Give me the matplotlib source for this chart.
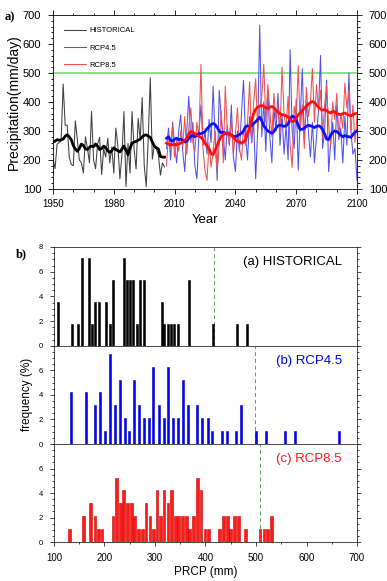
import numpy as np
import matplotlib
matplotlib.use("Agg")
import matplotlib.pyplot as plt
from matplotlib.ticker import MultipleLocator

plt.rcParams['font.family'] = ['Liberation Sans', 'DejaVu Sans']

# ---- panel a: annual precipitation ----
hist_years = list(range(1950, 2006))
hist_vals = [205, 170, 255, 260, 265, 462, 320, 320, 210, 185,
             180, 335, 270, 200, 190, 155, 280, 240, 190, 367,
             200, 170, 255, 278, 150, 240, 210, 275, 190, 244,
             155, 310, 250, 135, 217, 367, 108, 257, 155, 367,
             238, 169, 344, 271, 415, 182, 108, 278, 483, 203,
             251, 238, 217, 148, 190, 176]
hist_smooth = [262, 265, 270, 268, 270, 272, 282, 287, 280, 270,
               250, 238, 230, 240, 255, 250, 238, 236, 244, 248,
               246, 255, 248, 236, 240, 248, 242, 232, 226, 232,
               242, 236, 232, 228, 238, 248, 235, 218, 240, 258,
               262, 264, 268, 272, 280, 285, 287, 282, 278, 262,
               248, 242, 238, 212, 210, 210]

fut_years = list(range(2006, 2101))
rcp45_vals = [240, 310, 200, 330, 250, 190, 300, 355, 230, 160,
              300, 420, 260, 330, 180, 135, 290, 390, 250, 300,
              220, 340, 260, 455, 270, 130, 440, 350, 280, 200,
              320, 250, 390, 210, 160, 300, 230, 360, 475, 280,
              200, 350, 260, 330, 135, 300, 665, 280, 400, 230,
              440, 280, 190, 380, 300, 430, 250, 360, 220, 320,
              200, 580, 300, 240, 410, 165, 350, 515, 260, 400,
              300, 210, 330, 190, 280, 370, 560, 240, 300, 475,
              160, 260, 330, 200, 390, 270, 310, 190, 350, 250,
              500, 300, 220, 240, 130]
rcp45_smooth = [275, 280, 268, 265, 272, 275, 270, 272, 268, 262,
                265, 275, 282, 285, 280, 285, 292, 290, 294, 298,
                308, 315, 322, 326, 322, 312, 300, 294, 296, 292,
                292, 290, 286, 282, 280, 284, 288, 292, 300, 315,
                318, 316, 318, 326, 332, 340, 348, 335, 318, 308,
                300, 296, 292, 298, 310, 318, 320, 318, 316, 318,
                325, 340, 352, 348, 340, 318, 305, 306, 310, 316,
                320, 318, 315, 312, 316, 318, 315, 305, 290, 272,
                270, 285, 296, 300, 298, 292, 286, 280, 284, 282,
                280, 278, 288, 296, 300]
rcp85_vals = [180, 290, 240, 320, 210, 270, 230, 300, 250, 350,
              220, 310, 380, 260, 230, 330, 280, 530, 240, 160,
              130, 260, 175, 230, 300, 160, 250, 370, 190, 455,
              300, 260, 340, 220, 290, 380, 240, 200, 310, 250,
              330, 470, 260, 400, 480, 300, 380, 420, 530, 330,
              460, 370, 280, 430, 340, 390, 290, 520, 360, 310,
              420, 250, 175, 385, 340, 525, 300, 390, 240, 450,
              350, 400, 515, 330, 460, 370, 440, 280, 390, 460,
              320, 250, 400, 340, 430, 280, 360, 310, 465, 380,
              440, 300, 390, 260, 350]
rcp85_smooth = [258, 255, 252, 253, 254, 252, 255, 258, 262, 268,
                275, 290, 298, 296, 290, 286, 282, 278, 270, 258,
                248, 238, 222, 218, 235, 250, 268, 280, 288, 292,
                294, 290, 284, 278, 270, 264, 262, 258, 262, 270,
                290, 312, 338, 360, 375, 382, 386, 388, 385, 380,
                378, 382, 385, 380, 372, 365, 360, 356, 355, 352,
                348, 340, 332, 335, 345, 356, 362, 370, 378, 386,
                392, 398, 402, 398, 390, 382, 376, 372, 374, 370,
                365, 362, 368, 366, 360, 358, 356, 360, 362, 358,
                355, 352, 356, 360, 360]

# ---- panel b: histograms (bin centre in mm, number of years) ----
hist_bins = [108, 135, 148, 155, 169, 176, 182, 190, 203, 210,
             217, 238, 244, 251, 257, 265, 271, 278, 313, 318,
             325, 332, 338, 345, 367, 415, 462, 483]
hist_counts = [2, 1, 1, 4, 4, 1, 2, 2, 2, 1,
               3, 4, 3, 3, 3, 1, 3, 3, 2, 1,
               1, 1, 1, 1, 3, 1, 1, 1]
rcp45_bins = [133, 163, 181, 191, 201, 211, 220, 230, 240, 249,
              259, 268, 278, 288, 297, 307, 317, 326, 336, 346,
              355, 365, 384, 394, 404, 413, 432, 442, 461, 471,
              500, 519, 558, 577, 664]
rcp45_counts = [4, 4, 3, 4, 1, 7, 3, 5, 2, 1,
                5, 3, 2, 2, 6, 3, 2, 6, 2, 2,
                5, 3, 3, 2, 2, 1, 1, 1, 1, 3,
                1, 1, 1, 1, 1]
rcp85_bins = [130, 159, 173, 181, 188, 195, 217, 224, 231, 238,
              245, 253, 260, 267, 275, 282, 290, 297, 304, 311,
              318, 326, 333, 340, 347, 355, 362, 369, 376, 384,
              391, 399, 406, 428, 436, 443, 450, 457, 465, 479,
              508, 516, 523, 531]
rcp85_counts = [1, 2, 3, 2, 1, 1, 2, 5, 3, 4,
                3, 3, 2, 1, 1, 3, 2, 1, 4, 2,
                4, 3, 4, 2, 2, 2, 2, 1, 2, 5,
                4, 1, 1, 1, 2, 2, 1, 2, 2, 1,
                1, 1, 1, 2]
pct95 = [416, 499, 508]

fig = plt.figure(figsize=(3.87, 5.81), dpi=100)

# ---------- top panel ----------
ax = fig.add_axes([0.137, 0.6747, 0.7855, 0.2995])
ax.axhline(500, color='#7ee07e', lw=1.3, zorder=1)
l1, = ax.plot(hist_years, hist_vals, color='#404040', lw=0.75, zorder=2)
l2, = ax.plot(fut_years, rcp45_vals, color='#5050f0', lw=0.75, zorder=2)
l3, = ax.plot(fut_years, rcp85_vals, color='#f05050', lw=0.75, zorder=3)
ax.plot(hist_years, hist_smooth, color='black', lw=2.0, zorder=4)
ax.plot(fut_years, rcp45_smooth, color='#1010ff', lw=2.0, zorder=4)
ax.plot(fut_years, rcp85_smooth, color='#ff1010', lw=2.0, zorder=5)
ax.set_xlim(1950, 2100)
ax.set_ylim(100, 700)
ax.xaxis.set_major_locator(MultipleLocator(30))
ax.xaxis.set_minor_locator(MultipleLocator(10))
ax.yaxis.set_major_locator(MultipleLocator(100))
ax.yaxis.set_minor_locator(MultipleLocator(20))
ax.tick_params(which='both', direction='out', top=True, right=True,
               labelright=True, width=0.6)
ax.tick_params(which='major', length=3.5)
ax.tick_params(which='minor', length=1.8)
ax.tick_params(axis='x', labelsize=7, pad=4)
ax.tick_params(axis='y', labelsize=8, pad=5)
for s in ax.spines.values():
    s.set_linewidth(0.6)
ax.set_xlabel('Year', fontsize=9.5, labelpad=3)
ax.set_ylabel('Precipitation(mm/day)', fontsize=10, labelpad=1)
leg = ax.legend([l1, l2, l3], ['HISTORICAL', 'RCP4.5', 'RCP8.5'],
                loc='upper left', bbox_to_anchor=(0.015, 0.97), frameon=False,
                fontsize=5.5, handlelength=2.8, handletextpad=0.5,
                labelspacing=1.3)
fig.text(0.012, 1 - 17 / 581, 'a)', family='Liberation Serif',
         fontweight='bold', fontsize=9, va='center')

# ---------- histograms ----------
hb = [0.4045, 0.2358, 0.0671]
hh = [0.1704, 0.1687, 0.1687]
series = [(hist_bins, hist_counts, 56, 'black', 'black', 4.0, '(a) HISTORICAL'),
          (rcp45_bins, rcp45_counts, 95, '#0000ff', '#0000cc', 4.0, '(b) RCP4.5'),
          (rcp85_bins, rcp85_counts, 95, '#ff1a1a', '#cc0000', 5.4, '(c) RCP8.5')]
axes = []
for i, (bins, cnt, n, fc, ec, w, lab) in enumerate(series):
    a = fig.add_axes([0.1395, hb[i], 0.783, hh[i]])
    pct = np.array(cnt) / n * 100
    a.bar(bins, pct, width=w, color=fc, edgecolor=ec, linewidth=0.4, zorder=3)
    a.axvline(pct95[i], color='#5f9f5f', lw=0.7, ls=(0, (4, 3)), zorder=2)
    a.set_xlim(100, 700)
    a.set_ylim(0, 8)
    a.set_yticks([0, 2, 4, 6, 8] if i == 0 else [0, 2, 4, 6])
    a.yaxis.set_minor_locator(MultipleLocator(0.5))
    a.xaxis.set_major_locator(MultipleLocator(100))
    a.xaxis.set_minor_locator(MultipleLocator(50))
    a.tick_params(axis='y', which='both', direction='out', right=True,
                  width=0.5, labelsize=5.5, pad=5)
    a.tick_params(axis='y', which='major', length=3)
    a.tick_params(axis='y', which='minor', length=1.5)
    if i < 2:
        a.tick_params(axis='x', which='both', bottom=False, labelbottom=False)
    else:
        a.tick_params(axis='x', which='both', direction='out', width=0.5,
                      labelsize=7, pad=5)
        a.tick_params(axis='x', which='major', length=3)
        a.tick_params(axis='x', which='minor', length=1.5)
        a.set_xlabel('PRCP (mm)', fontsize=8.5, labelpad=2)
    for s in a.spines.values():
        s.set_linewidth(0.5)
    a.text(0.95, 0.85, lab, transform=a.transAxes, ha='right', va='center',
           fontsize=9.5, color=fc)
    axes.append(a)

fig.text(27 / 387, 1 - 394 / 581, 'frequency (%)', rotation=90,
         ha='center', va='center', fontsize=8.5)
fig.text(16 / 387, 1 - 254 / 581, 'b)', family='Liberation Serif',
         fontweight='bold', fontsize=9, va='center')

fig.savefig('out.png', dpi=100)
